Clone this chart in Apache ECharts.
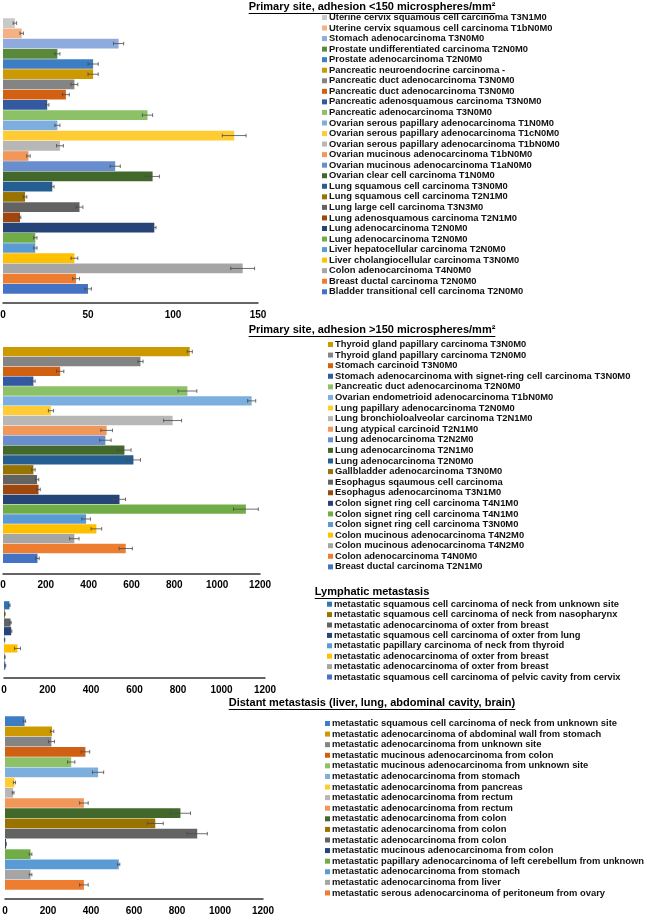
<!DOCTYPE html>
<html><head><meta charset="utf-8">
<script src="https://cdn.jsdelivr.net/npm/echarts@6/dist/echarts.min.js"></script>
<style>html,body{margin:0;padding:0;background:#fff}#c{width:650px;height:916px}</style>
</head><body><div id="c"></div><script>
// ---------- DATA ----------
const titleTexts = [
  "Primary site, adhesion <150 microspheres/mm\u00B2",
  "Primary site, adhesion >150 microspheres/mm\u00B2",
  "Lymphatic metastasis",
  "Distant metastasis (liver, lung, abdominal cavity, brain)"
];
const p1Labels = [
  "Uterine cervix squamous cell carcinoma T3N1M0",
  "Uterine cervix squamous cell carcinoma T1bN0M0",
  "Stomach adenocarcinoma T3N0M0",
  "Prostate undifferentiated carcinoma T2N0M0",
  "Prostate adenocarcinoma T2N0M0",
  "Pancreatic neuroendocrine carcinoma -",
  "Pancreatic duct adenocarcinoma T3N0M0",
  "Pancreatic duct adenocarcinoma T3N0M0",
  "Pancreatic adenosquamous carcinoma T3N0M0",
  "Pancreatic adenocarcinoma T3N0M0",
  "Ovarian serous papillary adenocarcinoma T1N0M0",
  "Ovarian serous papillary adenocarcinoma T1cN0M0",
  "Ovarian serous papillary adenocarcinoma T1bN0M0",
  "Ovarian mucinous adenocarcinoma T1bN0M0",
  "Ovarian mucinous adenocarcinoma T1aN0M0",
  "Ovarian clear cell carcinoma T1N0M0",
  "Lung squamous cell carcinoma T3N0M0",
  "Lung squamous cell carcinoma T2N1M0",
  "Lung large cell carcinoma T3N3M0",
  "Lung adenosquamous carcinoma T2N1M0",
  "Lung adenocarcinoma T2N0M0",
  "Lung adenocarcinoma T2N0M0",
  "Liver hepatocellular carcinoma T2N0M0",
  "Liver cholangiocellular carcinoma T3N0M0",
  "Colon adenocarcinoma T4N0M0",
  "Breast ductal carcinoma T2N0M0",
  "Bladder transitional cell carcinoma T2N0M0"
];
const p1Values = [7, 11, 68, 32, 53, 53, 42, 37, 26, 85, 32, 136, 33.5, 15, 66, 88, 29, 13, 45, 10, 89, 19, 19, 42, 141, 43, 50];
const p1Errors = [1, 1, 3, 1.5, 3, 3, 2, 2, 1, 3, 1.5, 7, 2, 1, 3, 4, 1, 1, 2, 0.5, 1, 1, 1, 2, 7, 2, 2];
const p1Ticks = [0, 50, 100, 150];

const p2Labels = [
  "Thyroid gland papillary carcinoma T3N0M0",
  "Thyroid gland papillary carcinoma T2N0M0",
  "Stomach carcinoid T3N0M0",
  "Stomach adenocarcinoma with signet-ring cell carcinoma T3N0M0",
  "Pancreatic duct adenocarcinoma T2N0M0",
  "Ovarian endometrioid adenocarcinoma T1bN0M0",
  "Lung papillary adenocarcinoma T2N0M0",
  "Lung bronchioloalveolar carcinoma T2N1M0",
  "Lung atypical carcinoid T2N1M0",
  "Lung adenocarcinoma T2N2M0",
  "Lung adenocarcinoma T2N1M0",
  "Lung adenocarcinoma T2N0M0",
  "Gallbladder adenocarcinoma T3N0M0",
  "Esophagus sqaumous cell carcinoma",
  "Esophagus adenocarcinoma T3N1M0",
  "Colon signet ring cell carcinoma T4N1M0",
  "Colon signet ring cell carcinoma T4N1M0",
  "Colon signet ring cell carcinoma T3N0M0",
  "Colon mucinous adenocarcinoma T4N2M0",
  "Colon mucinous adenocarcinoma T4N2M0",
  "Colon adenocarcinoma T4N0M0",
  "Breast ductal carcinoma T2N1M0"
];
const p2Values = [872, 642, 267, 142, 861, 1161, 224, 792, 484, 478, 567, 609, 142, 159, 166, 544, 1134, 388, 436, 333, 573, 161];
const p2Errors = [12, 12, 17, 8, 44, 19, 12, 42, 27, 27, 31, 33, 8, 8, 8, 28, 58, 20, 25, 22, 31, 8];
const p2Ticks = [0, 200, 400, 600, 800, 1000, 1200];

const p3Labels = [
  "metastatic squamous cell carcinoma of neck from unknown site",
  "metastatic squamous cell carcinoma of neck from nasopharynx",
  "metastatic adenocarcinoma of oxter from breast",
  "metastatic squamous cell carcinoma of oxter from lung",
  "metastatic papillary carcinoma of neck from thyroid",
  "metastatic adenocarcinoma of oxter from breast",
  "metastatic adenocarcinoma of oxter from breast",
  "metastatic squamous cell carcinoma of pelvic cavity from cervix"
];
const p3Values = [25, 4, 30, 33, 3, 62, 4, 6];
const p3Errors = [3, 1, 3, 3, 1, 14, 1, 2];
const p3Ticks = [0, 200, 400, 600, 800, 1000, 1200];

const p4Labels = [
  "metastatic squamous cell carcinoma of neck from unknown site",
  "metastatic adenocarcinoma of abdominal wall from stomach",
  "metastatic adenocarcinoma from unknown site",
  "metastatic mucinous adenocarcinoma from colon",
  "metastatic mucinous adenocarcinoma from unknown site",
  "metastatic adenocarcinoma from stomach",
  "metastatic adenocarcinoma from pancreas",
  "metastatic adenocarcinoma from rectum",
  "metastatic adenocarcinoma from rectum",
  "metastatic adenocarcinoma from colon",
  "metastatic adenocarcinoma from colon",
  "metastatic adenocarcinoma from colon",
  "metastatic mucinous adenocarcinoma from colon",
  "metastatic papillary adenocarcinoma of left cerebellum from unknown",
  "metastatic adenocarcinoma from stomach",
  "metastatic adenocarcinoma from liver",
  "metastatic serous adenocarcinoma of peritoneum from ovary"
];
const p4Values = [91, 219, 216, 374, 308, 433, 44, 38, 367, 816, 699, 894, 5, 119, 529, 119, 367];
const p4Errors = [5, 8, 14, 20, 17, 26, 5, 4, 20, 47, 37, 47, 1, 6, 5, 6, 20];
const p4Ticks = [0, 200, 400, 600, 800, 1000, 1200];

// ---------- STYLES ----------
const p1Colors = ["#C9C9C9","#F4B183","#8FAADC","#5A8A39","#3C7DC4","#CC9A00","#848484","#D26012","#335AA1","#8CC168","#7CAFDD","#FFCD33","#B7B7B7","#F1975A","#698ED0","#43682B","#255E91","#997300","#636363","#9E480E","#264478","#70AD47","#5B9BD5","#FFC000","#A5A5A5","#ED7D31","#4472C4"];
const p2Colors = ["#CC9A00","#848484","#D26012","#335AA1","#8CC168","#7CAFDD","#FFCD33","#B7B7B7","#F1975A","#698ED0","#43682B","#255E91","#997300","#636363","#9E480E","#264478","#70AD47","#5B9BD5","#FFC000","#A5A5A5","#ED7D31","#4472C4"];
const p3Colors = ["#2E75B6","#997300","#636363","#264478","#5B9BD5","#FFC000","#A5A5A5","#4472C4"];
const p4Colors = ["#3C7DC4","#CC9A00","#848484","#D26012","#8CC168","#7CAFDD","#FFCD33","#B7B7B7","#F1975A","#43682B","#997300","#636363","#264478","#70AD47","#5B9BD5","#A5A5A5","#ED7D31"];

const FONT = '"Liberation Sans", Arial, Helvetica, sans-serif';

const panels = [
  {labels:p1Labels, values:p1Values, errors:p1Errors, colors:p1Colors, ticks:p1Ticks},
  {labels:p2Labels, values:p2Values, errors:p2Errors, colors:p2Colors, ticks:p2Ticks},
  {labels:p3Labels, values:p3Values, errors:p3Errors, colors:p3Colors, ticks:p3Ticks},
  {labels:p4Labels, values:p4Values, errors:p4Errors, colors:p4Colors, ticks:p4Ticks}
];
const layouts = [
  {grid:{left:3, width:255, top:18, height:276}, offset:9, legendLeft:322, legendTop:12.2, lh:10.55, titleY:7},
  {grid:{left:3, width:257, top:346.7, height:216.6}, offset:10, legendLeft:328, legendTop:339.2, lh:10.59, titleY:330},
  {grid:{left:4, width:261, top:601, height:69}, offset:8, legendLeft:327, legendTop:599, lh:10.4, titleY:592},
  {grid:{left:5, width:258, top:716, height:174}, offset:9, legendLeft:325, legendTop:718.2, lh:10.59, titleY:703}
];

function renderErr(params, api){
  const v = api.value(0), c = api.value(1), e = api.value(2);
  const a = api.coord([v - e, c]), b = api.coord([v + e, c]);
  const h = 1.8;
  const st = {stroke:'#4a4a4a', lineWidth:0.8};
  return {type:'group', children:[
    {type:'line', shape:{x1:a[0], y1:a[1], x2:b[0], y2:b[1]}, style:st},
    {type:'line', shape:{x1:a[0], y1:a[1]-h, x2:a[0], y2:a[1]+h}, style:st},
    {type:'line', shape:{x1:b[0], y1:b[1]-h, x2:b[0], y2:b[1]+h}, style:st}
  ]};
}

const grids = [], xAxes = [], yAxes = [], series = [], legends = [], graphics = [];
const mctx = document.createElement('canvas').getContext('2d');

panels.forEach((p, pi) => {
  const L = layouts[pi];
  grids.push(Object.assign({outerBoundsMode:'none', containLabel:false}, L.grid));
  const tmin = p.ticks[0], tmax = p.ticks[p.ticks.length-1], tint = p.ticks[1]-p.ticks[0];
  xAxes.push({type:'value', gridIndex:pi, min:tmin, max:tmax, interval:tint, offset:L.offset,
    axisLine:{show:true, lineStyle:{color:'#333', width:1.5}},
    axisTick:{show:false}, splitLine:{show:false},
    axisLabel:{fontSize:10, fontWeight:'bold', color:'#000', fontFamily:FONT, margin:7,
      formatter:(v) => String(v)}});
  yAxes.push({type:'category', gridIndex:pi, inverse:true, show:false,
    data:p.labels.map((_, i) => String(i))});
  const names = p.labels.map((lab, i) => lab + '##' + pi + '_' + i);
  p.labels.forEach((lab, i) => {
    series.push({type:'bar', name:names[i], xAxisIndex:pi, yAxisIndex:pi, stack:'s'+pi,
      barCategoryGap:'5%', silent:true, animation:false,
      itemStyle:{color:p.colors[i]},
      data:p.values.map((v, j) => j === i ? v : '-')});
  });
  series.push({type:'custom', xAxisIndex:pi, yAxisIndex:pi, renderItem:renderErr, silent:true, animation:false, z:10,
    encode:{x:0, y:1}, data:p.values.map((v, i) => [v, i, p.errors[i]])});
  legends.push({orient:'vertical', left:L.legendLeft, top:L.legendTop, padding:0, itemGap:0,
    itemWidth:5, itemHeight:5, icon:'rect', selectedMode:false, data:names,
    formatter:(n) => n.split('##')[0],
    textStyle:{fontSize:9.4, fontWeight:'bold', color:'#111', fontFamily:FONT, lineHeight:L.lh, padding:[0,0,0,-3]}});
  const tfont = 'bold 11px ' + FONT;
  mctx.font = tfont;
  const w = mctx.measureText(titleTexts[pi]).width;
  graphics.push({type:'text', x:372, y:L.titleY, style:{text:titleTexts[pi], font:tfont, fill:'#000',
    textAlign:'center', textVerticalAlign:'middle', align:'center', verticalAlign:'middle'}});
  graphics.push({type:'line', shape:{x1:372 - w/2, y1:L.titleY + 6.5, x2:372 + w/2, y2:L.titleY + 6.5},
    style:{stroke:'#000', lineWidth:1}});
});

const chart = echarts.init(document.getElementById('c'), null, {renderer:'canvas'});
chart.setOption({
  animation:false,
  backgroundColor:'#fff',
  grid:grids, xAxis:xAxes, yAxis:yAxes, series:series, legend:legends, graphic:graphics
});
</script></body></html>
